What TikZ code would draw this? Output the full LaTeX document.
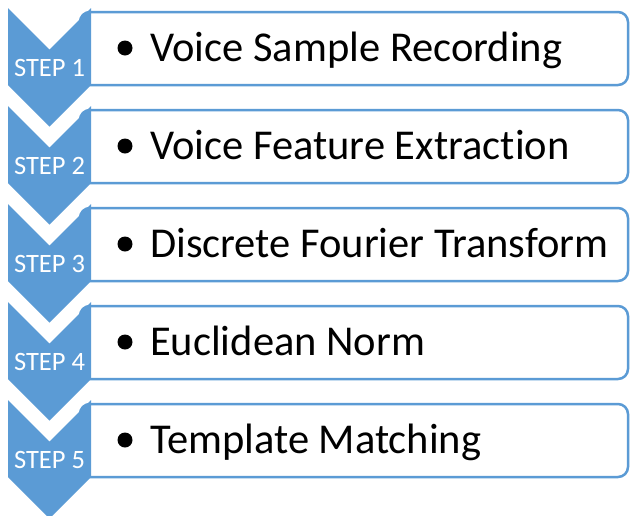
\documentclass[tikz,border=0pt]{standalone}
\usepackage{fontspec}
\setmainfont[Ligatures=NoCommon]{Carlito}
\definecolor{stepblue}{HTML}{5B9BD5}
\begin{document}
\begin{tikzpicture}[x=1pt,y=-1pt,
  chevron/.style={fill=stepblue},
  bulletdot/.style={fill=black},
  stepbox/.style={draw=stepblue, line width=2.5pt, fill=white, rounded corners=10pt,
    minimum width=548pt, minimum height=73pt, inner sep=0pt},
  steplabel/.style={text=white, font=\fontsize{26.5}{30}\selectfont, anchor=base, inner sep=0pt},
  itemtext/.style={font=\fontsize{42.5}{48}\selectfont, anchor=base west, inner sep=0pt}]
\useasboundingbox (0,0) rectangle (630,515);
\foreach \i/\txt in {1/Voice Sample Recording, 2/Voice Feature Extraction,
    3/Discrete Fourier Transform, 4/Euclidean Norm, 5/Template Matching}{
  \pgfmathsetmacro\T{8+98*(\i-1)}
  % rounded text panel, its left end hidden under the chevron
  \node[stepbox] (b\i) at (354,\T+40.5) {};
  % downward chevron for the step
  \fill[chevron] (8,\T) -- (49.5,\T+41.5) -- (91,\T) -- (91,\T+77)
    -- (49.5,\T+118.5) -- (8,\T+77) -- cycle;
  \node[steplabel] (s\i) at (49.5,\T+68) {STEP \i};
  % list bullet and item text
  \fill[bulletdot] (125,\T+40) circle [radius=7.5pt];
  \node[itemtext] (t\i) at (150,\T+53) {\txt};
}
\end{tikzpicture}
\end{document}
